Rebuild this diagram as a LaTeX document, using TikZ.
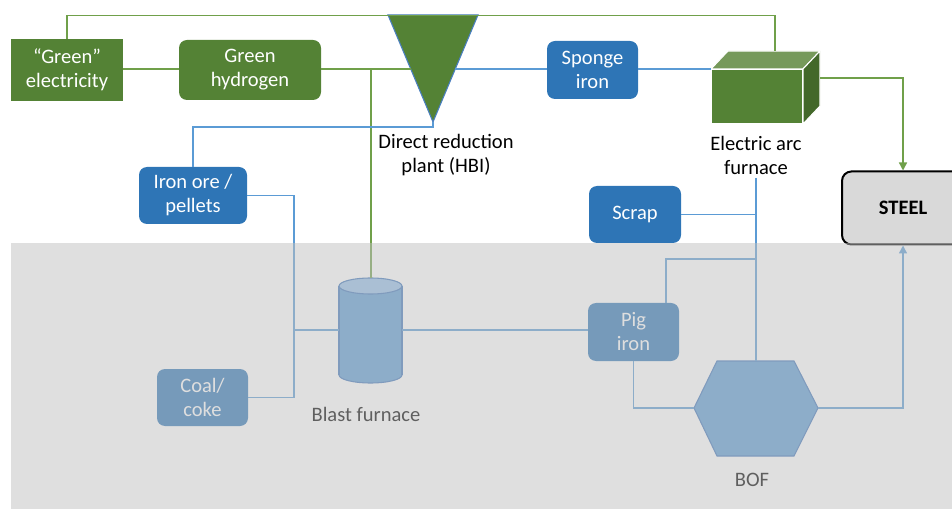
\documentclass[tikz,border=0pt]{standalone}
\usepackage{fontspec}
\setmainfont{Carlito}
\usetikzlibrary{arrows.meta}
\definecolor{gfill}{HTML}{548235}
\definecolor{gline}{HTML}{70A04A}
\definecolor{bfill}{HTML}{2E75B6}
\definecolor{bline}{HTML}{5B9BD5}
\definecolor{triline}{HTML}{4A7FC0}
\definecolor{cbody}{HTML}{5B9BD5}
\definecolor{cend}{HTML}{95BFEA}
\definecolor{cline}{HTML}{4177BB}
\definecolor{etop}{HTML}{76995A}
\definecolor{eside}{HTML}{43682A}
\definecolor{sfill}{HTML}{D9D9D9}
\definecolor{ov}{gray}{0.75}
\begin{document}
\begin{tikzpicture}[x=0.75pt,y=-0.75pt,
  every node/.style={font=\fontsize{15.4}{18}\selectfont},
  gbox/.style={rectangle, fill=gfill, text=white, align=center, inner sep=0pt},
  bbox/.style={rectangle, rounded corners=6pt, fill=bfill, text=white, align=center, inner sep=0pt},
  steelbox/.style={rectangle, rounded corners=7pt, fill=sfill, draw=black, line width=1.5pt, align=center, inner sep=0pt},
  gl/.style={draw=gline, line width=1.1pt},
  bl/.style={draw=bline, line width=1.1pt},
  lbl/.style={align=center, inner sep=0pt},
  shp/.style={draw=cline, line width=0.8pt},
  tip/.style={-{Triangle[width=6pt,length=6pt]}}]
\useasboundingbox (0,0) rectangle (952,509);

% boxes
\node[gbox, minimum width=84pt, minimum height=46.5pt] (elec) at (67,70) {“Green”\\electricity};
\node[gbox, rounded corners=6pt, minimum width=106.5pt, minimum height=45pt] (hyd) at (250,70) {Green\\hydrogen};
\node[bbox, minimum width=68.25pt, minimum height=43.5pt] (sponge) at (592.5,70) {Sponge\\iron};
\node[bbox, minimum width=81pt, minimum height=42.75pt] (iron) at (193,195.5) {Iron ore /\\pellets};
\node[bbox, minimum width=69pt, minimum height=42.75pt] (scrap) at (635,214.5) {Scrap};
\node[bbox, minimum width=68.25pt, minimum height=42.75pt] (coal) at (202.5,397.5) {Coal/\\coke};
\node[bbox, minimum width=68.25pt, minimum height=43.5pt] (pig) at (633.5,332) {Pig\\iron};
\node[steelbox, minimum width=91.5pt, minimum height=54.75pt] (steel) at (903,208) {\textbf{STEEL}};

% direct reduction plant (triangle)
\filldraw[fill=gfill, draw=triline, line width=0.8pt] (388,15) -- (478,15) -- (433,122) -- cycle;
\coordinate (drL) at (410.7,69);
\coordinate (drR) at (455.3,69);
\coordinate (drA) at (433,122);
\node[lbl] (drlbl) at (446,155.5) {Direct reduction\\plant (HBI)};

% electric arc furnace (cube)
\filldraw[fill=gfill, draw=white, line width=0.8pt] (711,69) rectangle (803,124);
\filldraw[fill=etop, draw=white, line width=0.8pt] (711,69) -- (728,51) -- (820,51) -- (803,69) -- cycle;
\filldraw[fill=eside, draw=white, line width=0.8pt] (803,69) -- (820,51) -- (820,106) -- (803,124) -- cycle;
\coordinate (eafT) at (775,51);
\coordinate (eafL) at (711,69);
\coordinate (eafR) at (820,78);
\node[lbl] (eaflbl) at (756,155.5) {Electric arc\\furnace};
\coordinate (eafB) at (756,178);

% blast furnace (cylinder)
\filldraw[fill=cbody, shp] (370.5,375) ellipse [x radius=31.5, y radius=8];
\fill[cbody] (339,286) rectangle (402,375);
\draw[shp] (339,286) -- (339,375) (402,286) -- (402,375);
\filldraw[fill=cend, shp] (370.5,286) ellipse [x radius=31.5, y radius=8];
\coordinate (bfT) at (371,278);
\coordinate (bfL) at (339,330);
\coordinate (bfR) at (402,330);
\node[lbl] (bflbl) at (366,414) {Blast furnace};

% BOF (hexagon)
\filldraw[fill=cbody, shp] (694,408) -- (717,361) -- (794,361) -- (818,408) -- (794,456) -- (717,456) -- cycle;
\coordinate (bofL) at (694,408);
\coordinate (bofR) at (818,408);
\coordinate (bofT) at (756,361);
\node[lbl] (boflbl) at (752,480) {BOF};

% junctions
\coordinate (hj) at (371,69);
\coordinate (jx) at (294,330);
\coordinate (pj) at (756,259);

% connectors
\draw[gl] (elec.north) -- ++(0,-23) -| (eafT);
\draw[gl] (elec.east) ++(0,-1) -- (hyd.west |- drL);
\draw[gl] (hyd.east |- drL) -- (drL);
\draw[gl] (hj) -- (bfT);
\draw[bl] (drR) -- (sponge.west |- drR);
\draw[bl] (sponge.east |- drR) -- (eafL);
\draw[bl] (drA) -- ++(0,5) -| (iron.north);
\draw[bl] (iron.east) -| (jx) |- (coal.east);
\draw[bl] (jx) -- (bfL);
\draw[bl] (bfR) -- (pig.west |- bfR);
\draw[bl] (eafB) -- (bofT);
\draw[bl] (scrap.east) -- (scrap.east -| eafB);
\draw[bl] ([xshift=24.4pt]pig.north) |- (pj);
\draw[bl] (pig.south) |- (bofL);
\draw[bl, tip] (bofR) -| (steel.south);
\draw[gl, tip] (eafR) -| (steel.north);

% faded overlay for the blast-furnace route
\fill[ov, opacity=0.5] (11,243) rectangle (952,509);
\end{tikzpicture}
\end{document}
